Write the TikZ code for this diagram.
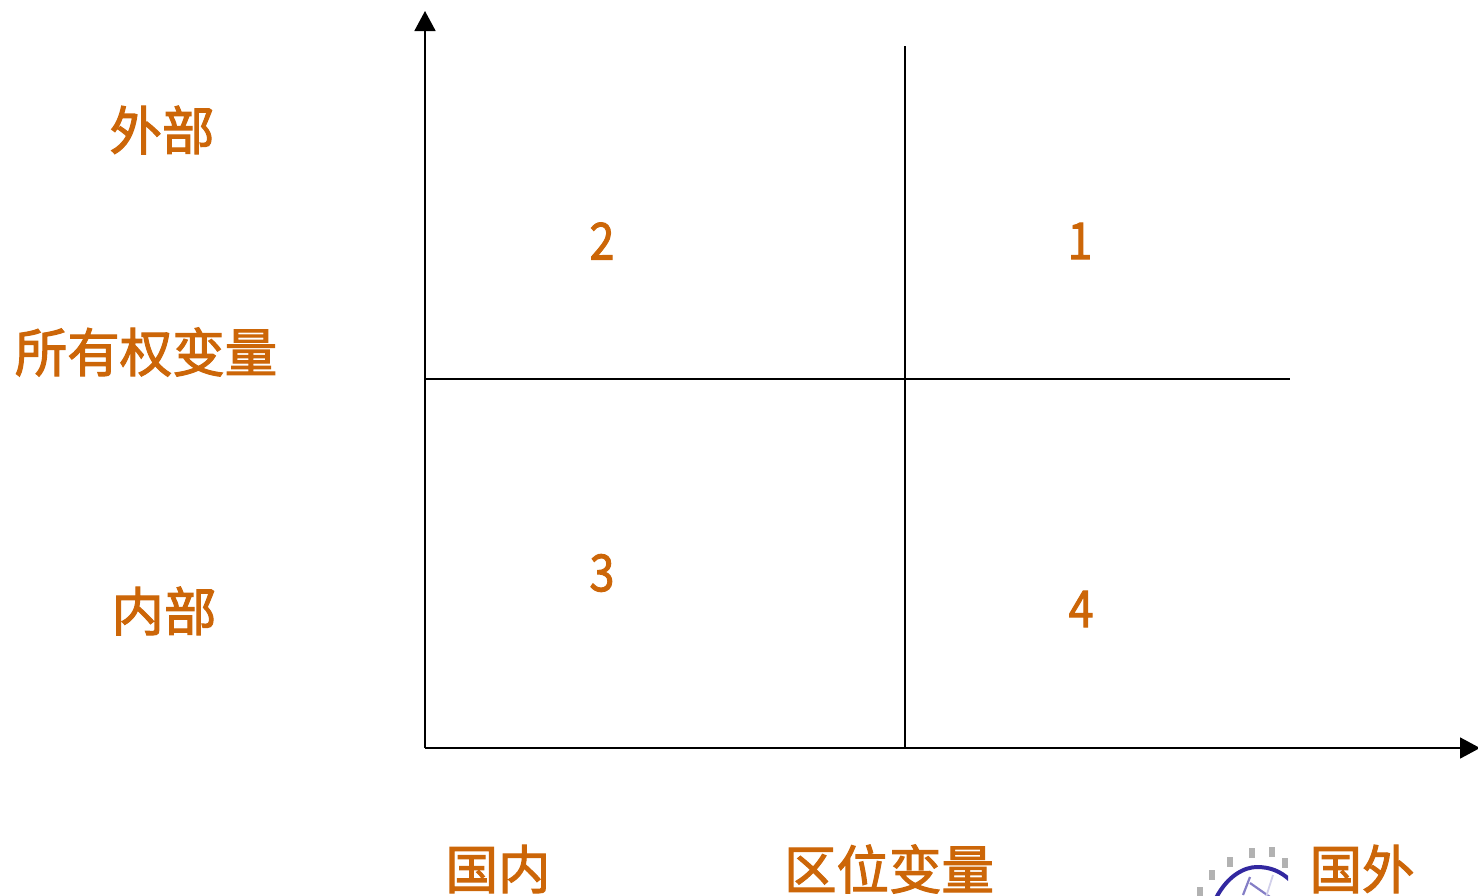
\documentclass[tikz,border=0pt]{standalone}
\usepackage{fontspec}
\setmainfont[FakeBold=2]{Noto Sans CJK SC}
\usetikzlibrary{arrows.meta}
\definecolor{lab}{RGB}{204,102,8}
\definecolor{logoblue}{RGB}{50,40,160}
\tikzset{
  lbl/.style={text=lab,font=\fontsize{52.5}{53}\selectfont,inner sep=0pt,anchor=center},
  num/.style={text=lab,font=\fontsize{51}{51}\selectfont,inner sep=0pt,anchor=center,xscale=0.88},
  axis/.style={line width=1.8pt,draw=black,-{Triangle[length=20pt,width=21pt]}},
  rule/.style={line width=1.6pt,draw=black},
}
\begin{document}
\begin{tikzpicture}[x=1pt,y=-1pt]
\useasboundingbox (0,0) rectangle (1478,895);
\clip (0,0) rectangle (1478,895);
\coordinate (o) at (425,748);
\coordinate (ytip) at (425,11);
\coordinate (xtip) at (1480,748);
\coordinate (vt) at (905,46);
\coordinate (vb) at (905,748);
\coordinate (hl) at (425,379);
\coordinate (hr) at (1290,379);
\draw[axis] (o) -- (ytip);
\draw[axis] (o) -- (xtip);
\draw[rule] (vt) -- (vb);
\draw[rule] (hl) -- (hr);
\node[lbl] (ext) at (162,130) {外部};
\node[lbl] (own) at (146,352) {所有权变量};
\node[lbl] (int) at (164,611) {内部};
\node[num] (n2) at (602,241) {2};
\node[num] (n1) at (1080,241) {1};
\node[num] (n3) at (602,573) {3};
\node[num] (n4) at (1081,609) {4};
\node[lbl] (dom) at (498,869) {国内};
\node[lbl] (loc) at (889,869) {区位变量};
\node[lbl] (for) at (1362,869) {国外};
% partial logo
\begin{scope}
\clip (1180,840) rectangle (1288,895);
\draw[logoblue,line width=4pt] (1216,898) .. controls (1228,875) and (1245,867) .. (1257,867) .. controls (1270,867) and (1280,871) .. (1290,880);
\draw[logoblue!60,line width=2.2pt] (1243,895) -- (1250,877);
\draw[logoblue!60,line width=2.2pt] (1250,883) -- (1270,897);
\draw[logoblue!22,line width=1.8pt] (1273,875) -- (1266,897);
\foreach \px/\py in {1200/892,1212/875,1230/862,1252/853,1272/852,1285/863}{
  \fill[black!30] (\px-3,\py-5) rectangle (\px+3,\py+5);
}
\end{scope}
\end{tikzpicture}
\end{document}
